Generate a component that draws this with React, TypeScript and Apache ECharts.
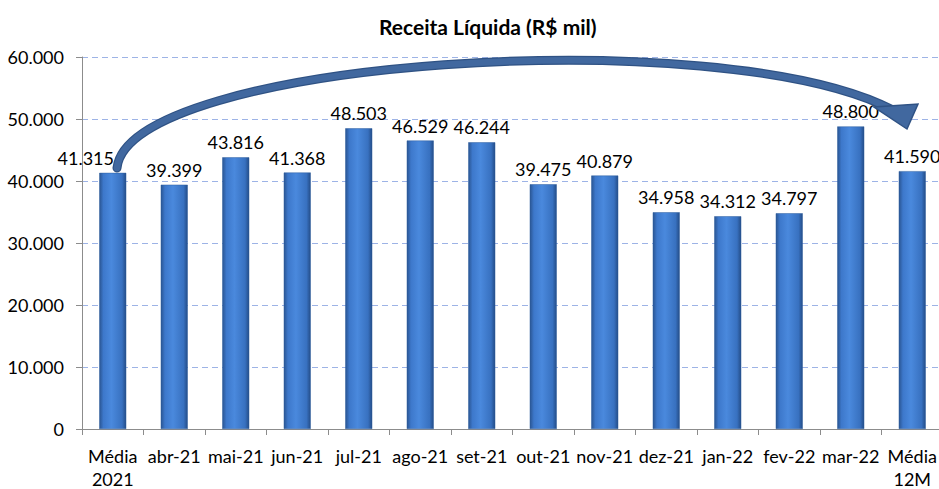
import React, { useEffect, useRef } from "react";
import * as echarts from "echarts";

const categories = [
  "Média\n2021", "abr-21", "mai-21", "jun-21", "jul-21", "ago-21", "set-21",
  "out-21", "nov-21", "dez-21", "jan-22", "fev-22", "mar-22", "Média\n12M",
];
const values = [41315, 39399, 43816, 41368, 48503, 46529, 46244, 39475, 40879, 34958, 34312, 34797, 48800, 41590];
const yMin = 0;
const yMax = 60000;
const yInterval = 10000;
const titleText = "Receita Líquida (R$ mil)";

const FONT = "Lato, 'Liberation Sans', sans-serif";

const fmt = (v: number) => {
  const s = Math.round(v).toString();
  return s.replace(/\B(?=(\d{3})+(?!\d))/g, ".");
};

export default function App() {
  const ref = useRef<HTMLDivElement>(null);
  useEffect(() => {
    if (!ref.current) return;
    const chart = echarts.init(ref.current, undefined, { renderer: "svg" });
    const barGradient = new echarts.graphic.LinearGradient(0, 0, 1, 0, [
      { offset: 0, color: "#2a5592" },
      { offset: 0.15, color: "#3d78cb" },
      { offset: 0.45, color: "#4a89dd" },
      { offset: 0.85, color: "#3871c0" },
      { offset: 1, color: "#244d88" },
    ]);
    const arrowColor = "#41689f";
    const curve = { x1: 117, y1: 168, cpx1: 128, cpy1: 60, cpx2: 720, cpy2: 20, x2: 893, y2: 110 };
    chart.setOption({
      animation: false,
      title: {
        text: titleText,
        left: 374,
        top: 11,
        textStyle: { fontFamily: FONT, fontWeight: "bold", fontSize: 21, color: "#000" },
      },
      grid: { left: 82, top: 57, width: 861, height: 372, containLabel: false, outerBoundsMode: "none" },
      xAxis: {
        type: "category",
        data: categories,
        axisLine: { show: true, lineStyle: { color: "#8c8c8c", width: 1 } },
        axisTick: { show: true, alignWithLabel: false, length: 6, lineStyle: { color: "#8c8c8c" } },
        axisLabel: {
          interval: 0,
          margin: 15,
          fontFamily: FONT,
          fontSize: 18,
          color: "#000",
          lineHeight: 23,
          hideOverlap: false,
        },
      },
      yAxis: {
        type: "value",
        min: yMin,
        max: yMax,
        interval: yInterval,
        axisLine: { show: true, lineStyle: { color: "#8c8c8c", width: 1 } },
        axisTick: { show: true, length: 6, lineStyle: { color: "#8c8c8c" } },
        axisLabel: {
          margin: 18,
          fontFamily: FONT,
          fontSize: 18,
          color: "#000",
          formatter: (v: number) => fmt(v),
        },
        splitLine: { show: true, lineStyle: { color: "#9db3e6", type: [6, 4], width: 1 } },
      },
      series: [
        {
          type: "bar",
          barWidth: 27,
          data: values.map((v, i) =>
            i === 0 ? { value: v, label: { offset: [-27, 0] } } : { value: v }
          ),
          itemStyle: { color: barGradient, borderColor: "#2f5f9e", borderWidth: 0.5 },
          label: {
            show: true,
            position: "top",
            distance: 6,
            fontFamily: FONT,
            fontSize: 18,
            color: "#000",
            formatter: (p: any) => fmt(p.value),
          },
        },
      ],
      graphic: [
        {
          type: "bezierCurve",
          z: 100,
          shape: curve,
          style: { stroke: "#2f5284", lineWidth: 9, fill: null, lineCap: "round" },
        },
        {
          type: "bezierCurve",
          z: 101,
          shape: curve,
          style: { stroke: arrowColor, lineWidth: 6.5, fill: null, lineCap: "round" },
        },
        {
          type: "polygon",
          z: 102,
          shape: { points: [[874, 107], [918, 104], [907, 129]] },
          style: { fill: arrowColor, stroke: "#2f5284", lineWidth: 1.5 },
        },
      ],
    });
    return () => chart.dispose();
  }, []);
  return (
    <div
      ref={ref}
      style={{ position: "absolute", left: 0, top: 0, width: 939, height: 489, background: "#fff" }}
    />
  );
}
